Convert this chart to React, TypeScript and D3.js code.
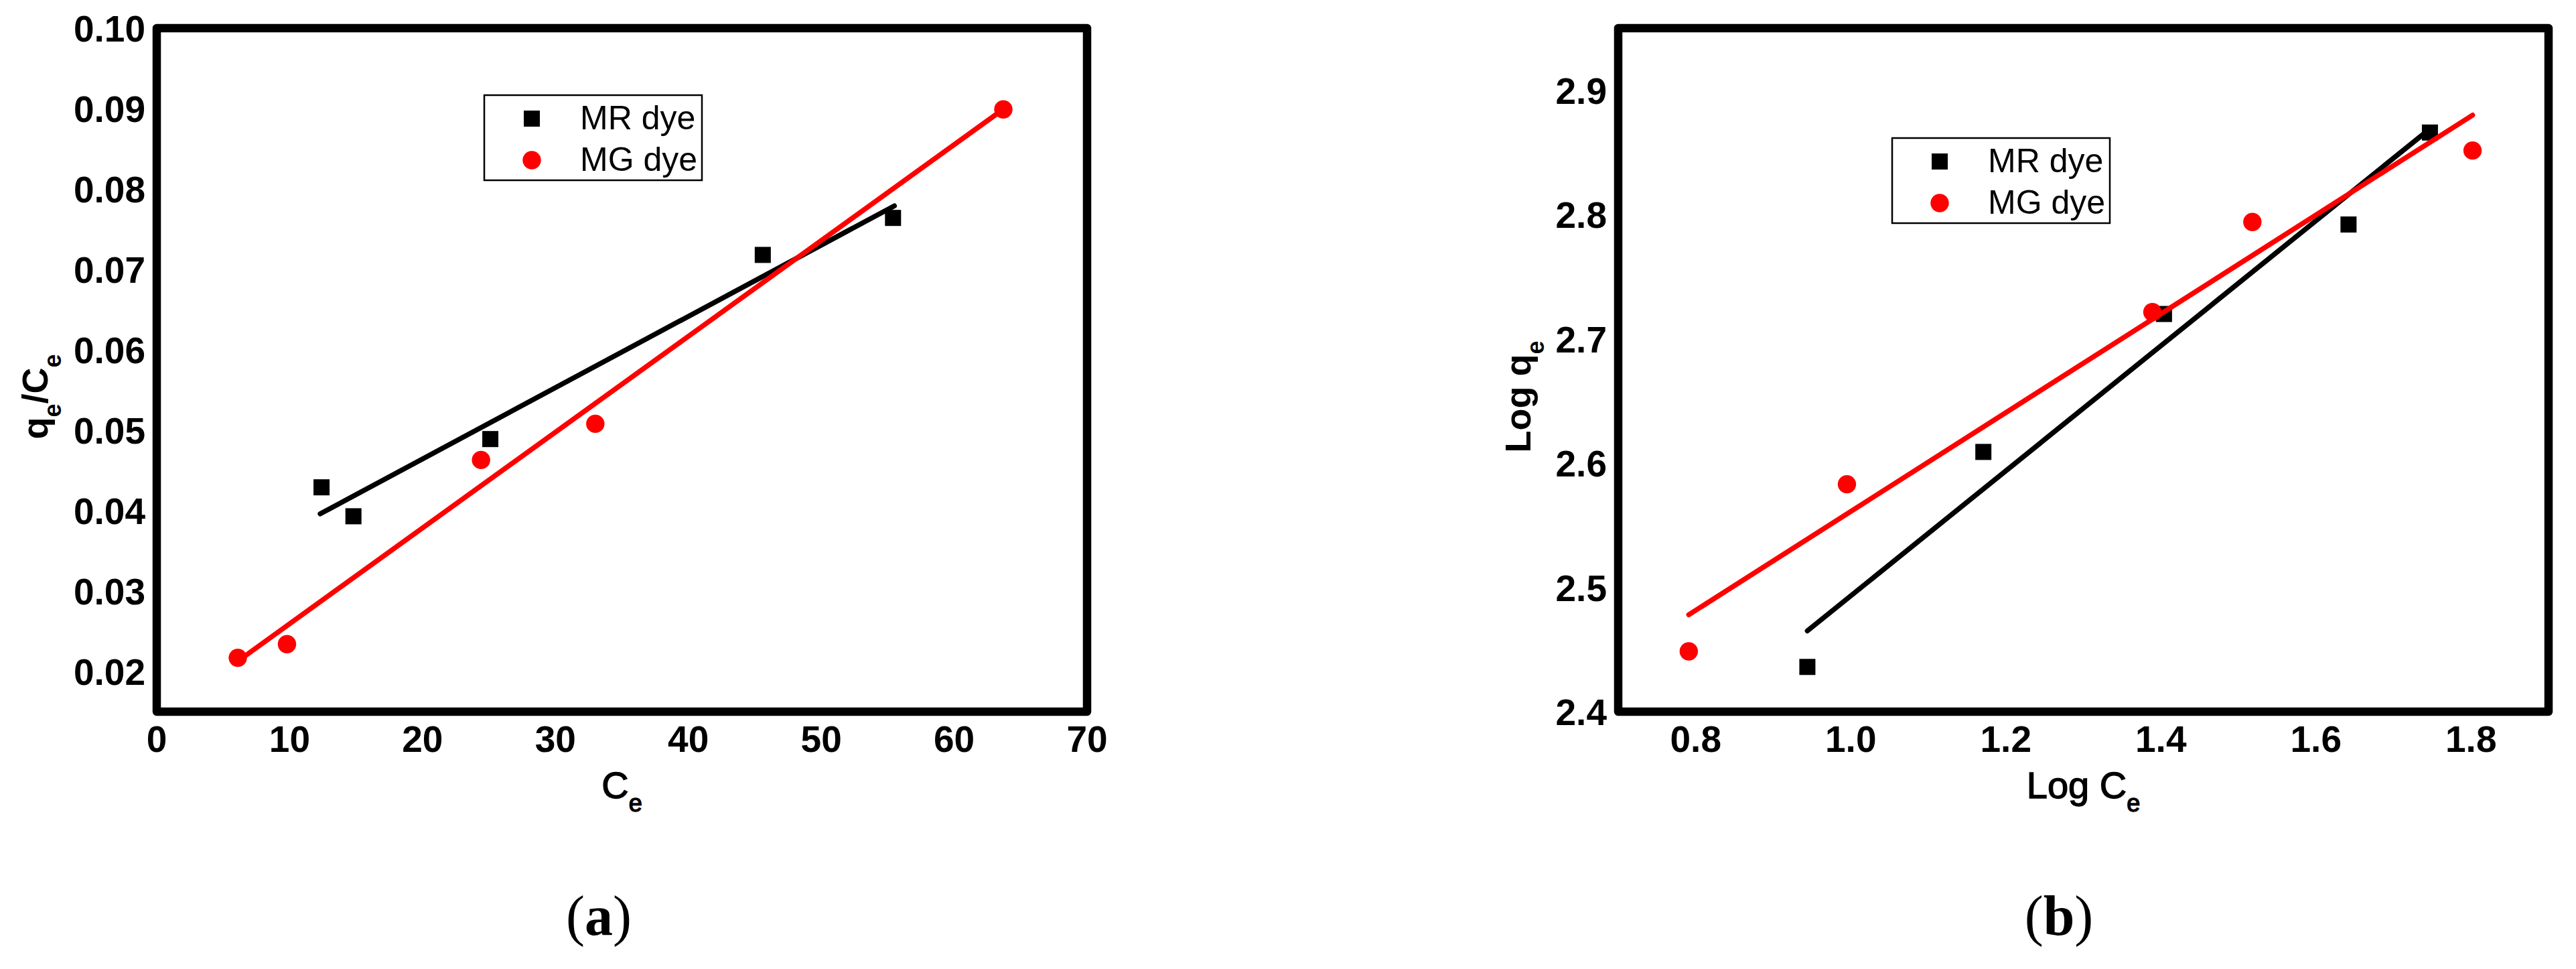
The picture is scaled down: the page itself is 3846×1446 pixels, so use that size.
import React from 'react';
import * as d3 from 'd3';

// ---------- Panel (a): Langmuir-type plot (qe/Ce vs Ce) ----------
const xTicksA = [0, 10, 20, 30, 40, 50, 60, 70];
const yTicksA = [0.02, 0.03, 0.04, 0.05, 0.06, 0.07, 0.08, 0.09, 0.1];
const mrCeA = [12.4, 14.8, 25.1, 45.6, 55.4];
const mrValA = [0.0429, 0.0393, 0.0489, 0.0718, 0.0764];
const mgCeA = [6.1, 9.8, 24.4, 33.0, 63.7];
const mgValA = [0.0217, 0.0234, 0.0463, 0.0508, 0.0899];
const mrFitXA = [12.3, 55.5];
const mrFitYA = [0.0396, 0.0779];
const mgFitXA = [6.2, 63.6];
const mgFitYA = [0.0214, 0.0898];

// ---------- Panel (b): Freundlich plot (Log qe vs Log Ce) ----------
const xTicksB = [0.8, 1.0, 1.2, 1.4, 1.6, 1.8];
const yTicksB = [2.4, 2.5, 2.6, 2.7, 2.8, 2.9];
const mrCeB = [0.944, 1.171, 1.404, 1.642, 1.747];
const mrValB = [2.436, 2.609, 2.72, 2.792, 2.866];
const mgCeB = [0.791, 0.995, 1.389, 1.518, 1.802];
const mgValB = [2.4485, 2.583, 2.7215, 2.794, 2.8515];
const mrFitXB = [0.944, 1.747];
const mrFitYB = [2.465, 2.869];
const mgFitXB = [0.791, 1.802];
const mgFitYB = [2.478, 2.88];

const seriesNames = ['MR dye', 'MG dye'];
const panelLabels = ['a', 'b'];

const SANS = '"Liberation Sans", Arial, sans-serif';
const SERIF = '"Liberation Serif", "Times New Roman", serif';
const RED = '#ff0000';

type PanelProps = {
  xDomain: [number, number];
  yDomain: [number, number];
  left: number; right: number; top: number; bottom: number;
  xTicks: number[]; yTicks: number[];
  xFmt: (v: number) => string; yFmt: (v: number) => string;
  mrX: number[]; mrY: number[]; mgX: number[]; mgY: number[];
  mrFitX: number[]; mrFitY: number[]; mgFitX: number[]; mgFitY: number[];
  legendX: number; legendY: number;
  yTitle: React.ReactNode; yTitleX: number; yTitleY: number;
  xTitle: React.ReactNode;
  label: string; labelX: number;
};

function Panel(p: PanelProps) {
  const x = d3.scaleLinear().domain(p.xDomain).range([p.left, p.right]);
  const y = d3.scaleLinear().domain(p.yDomain).range([p.bottom, p.top]);
  const line = d3.line<[number, number]>().x(d => x(d[0])).y(d => y(d[1]));
  const mrFit = line(p.mrFitX.map((v, i) => [v, p.mrFitY[i]] as [number, number])) || '';
  const mgFit = line(p.mgFitX.map((v, i) => [v, p.mgFitY[i]] as [number, number])) || '';
  const sq = 24;
  const r = 13.7;
  const cx = (p.left + p.right) / 2;
  return (
    <g>
      {/* frame */}
      <rect x={p.left} y={p.top} width={p.right - p.left} height={p.bottom - p.top}
        fill="none" stroke="#000" strokeWidth={12.5} strokeLinejoin="round" />
      {/* x tick labels */}
      {p.xTicks.map(t => (
        <text key={'x' + t} x={x(t)} y={p.bottom + 60} textAnchor="middle"
          fontFamily={SANS} fontWeight="bold" fontSize={55}>{p.xFmt(t)}</text>
      ))}
      {/* y tick labels */}
      {p.yTicks.map(t => (
        <text key={'y' + t} x={p.left - 17} y={y(t) + 20} textAnchor="end"
          fontFamily={SANS} fontWeight="bold" fontSize={55}>{p.yFmt(t)}</text>
      ))}
      {/* axis titles */}
      <text x={cx} y={p.bottom + 129} textAnchor="middle" fontFamily={SANS} fontSize={56}
        stroke="#000" strokeWidth={1.4}>{p.xTitle}</text>
      <text transform={`translate(${p.yTitleX},${p.yTitleY}) rotate(-90)`} textAnchor="middle"
        fontFamily={SANS} fontWeight="bold" fontSize={54}>{p.yTitle}</text>
      {/* MR series */}
      {p.mrX.map((v, i) => (
        <rect key={'mr' + i} x={x(v) - sq / 2} y={y(p.mrY[i]) - sq / 2} width={sq} height={sq} fill="#000" />
      ))}
      <path d={mrFit} fill="none" stroke="#000" strokeWidth={7.5} strokeLinecap="round" />
      {/* MG series */}
      {p.mgX.map((v, i) => (
        <circle key={'mg' + i} cx={x(v)} cy={y(p.mgY[i])} r={r} fill={RED} />
      ))}
      <path d={mgFit} fill="none" stroke={RED} strokeWidth={7.5} strokeLinecap="round" />
      {/* legend */}
      <g transform={`translate(${p.legendX},${p.legendY})`}>
        <rect x={0} y={0} width={325} height={127} fill="#fff" stroke="#000" strokeWidth={2.5} />
        <rect x={71 - sq / 2} y={35 - sq / 2} width={sq} height={sq} fill="#000" />
        <circle cx={71} cy={97} r={r} fill={RED} />
        <text x={143} y={51} fontFamily={SANS} fontSize={50}>{seriesNames[0]}</text>
        <text x={143} y={113} fontFamily={SANS} fontSize={50}>{seriesNames[1]}</text>
      </g>
      {/* panel label */}
      <text x={p.labelX} y={1395} textAnchor="middle" fontFamily={SERIF} fontSize={84}>
        (<tspan fontWeight="bold">{p.label}</tspan>)
      </text>
    </g>
  );
}

export default function App() {
  const sub = (s: string) => (
    <tspan fontSize={36} dy={20}>{s}</tspan>
  );
  return (
    <svg width={3846} height={1446} viewBox="0 0 3846 1446"
      style={{ position: 'absolute', left: 0, top: 0, display: 'block', background: '#fff' }}>
      <rect x={0} y={0} width={3846} height={1446} fill="#fff" />
      <Panel
        xDomain={[0, 70]} yDomain={[0.015, 0.1]}
        left={234} right={1623} top={42} bottom={1062}
        xTicks={xTicksA} yTicks={yTicksA}
        xFmt={v => String(v)} yFmt={v => v.toFixed(2)}
        mrX={mrCeA} mrY={mrValA} mgX={mgCeA} mgY={mgValA}
        mrFitX={mrFitXA} mrFitY={mrFitYA} mgFitX={mgFitXA} mgFitY={mgFitYA}
        legendX={723} legendY={142}
        yTitle={<>q{sub('e')}<tspan dy={-20}>/C</tspan>{sub('e')}</>}
        yTitleX={71} yTitleY={592}
        xTitle={<>C{sub('e')}</>}
        label={panelLabels[0]} labelX={894}
      />
      <Panel
        xDomain={[0.7, 1.9]} yDomain={[2.4, 2.95]}
        left={2416} right={3805} top={42} bottom={1062}
        xTicks={xTicksB} yTicks={yTicksB}
        xFmt={v => v.toFixed(1)} yFmt={v => v.toFixed(1)}
        mrX={mrCeB} mrY={mrValB} mgX={mgCeB} mgY={mgValB}
        mrFitX={mrFitXB} mrFitY={mrFitYB} mgFitX={mgFitXB} mgFitY={mgFitYB}
        legendX={2825} legendY={206}
        yTitle={<>Log q{sub('e')}</>}
        yTitleX={2285} yTitleY={592}
        xTitle={<>Log C{sub('e')}</>}
        label={panelLabels[1]} labelX={3074}
      />
    </svg>
  );
}
